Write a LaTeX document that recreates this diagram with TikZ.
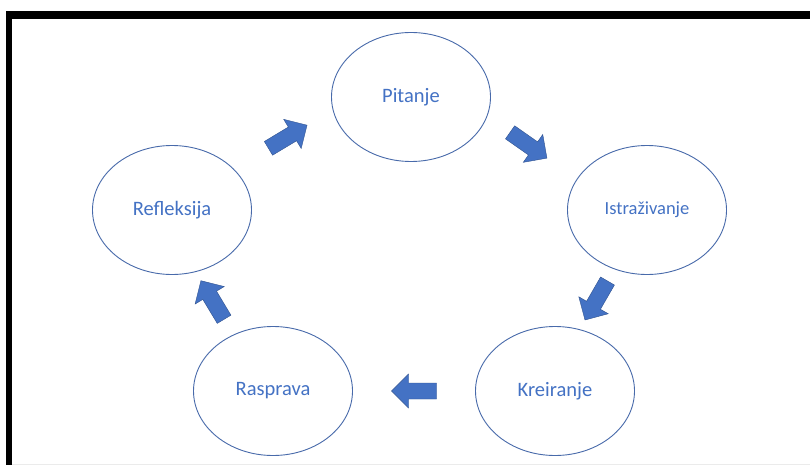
\documentclass[tikz,border=0pt]{standalone}
\usepackage{fontspec}
\setmainfont{Carlito}
\usetikzlibrary{shapes.geometric}
\definecolor{obl}{RGB}{68,114,196}
\definecolor{obd}{RGB}{47,82,143}
\definecolor{ell}{RGB}{72,106,170}
\tikzset{
  stage/.style={ellipse, draw=ell, line width=0.9pt, minimum width=159pt, minimum height=129pt,
    inner sep=0pt, text=obl, font=\fontsize{20.5}{24}\selectfont},
  blockarrow/.pic={\fill[obl, draw=obd, line width=0.4pt]
    (-22.5,-8) -- (5.5,-8) -- (5.5,-17) -- (22.5,0) -- (5.5,17) -- (5.5,8) -- (-22.5,8) -- cycle;}
}
\begin{document}
\begin{tikzpicture}[x=1pt,y=-1pt]
\useasboundingbox (0,0) rectangle (810,465);
\fill[white] (0,0) rectangle (810,465);
\fill[black] (6,11) rectangle (810,19);
\fill[black] (6,11) rectangle (12,465);
\draw[black!8, line width=1pt] (12,464) -- (810,464);

\node[stage] (pit) at (411,97) {Pitanje};
\node[stage, font=\fontsize{18.5}{22}\selectfont] (ist) at (647,210) {Istraživanje};
\node[stage] (kre) at (555,391) {Kreiranje};
\node[stage] (ras) at (273,391) {Rasprava};
\node[stage] (ref) at (172,210) {Refleksija};

\pic[rotate=31] (a1) at (287.75,136.75) {blockarrow};
\pic[rotate=-35] (a2) at (528.5,145.25) {blockarrow};
\pic[rotate=240] (a3) at (596.25,300.5) {blockarrow};
\pic[rotate=180] (a4) at (414,391) {blockarrow};
\pic[rotate=121] (a5) at (212.5,300) {blockarrow};
\end{tikzpicture}
\end{document}
